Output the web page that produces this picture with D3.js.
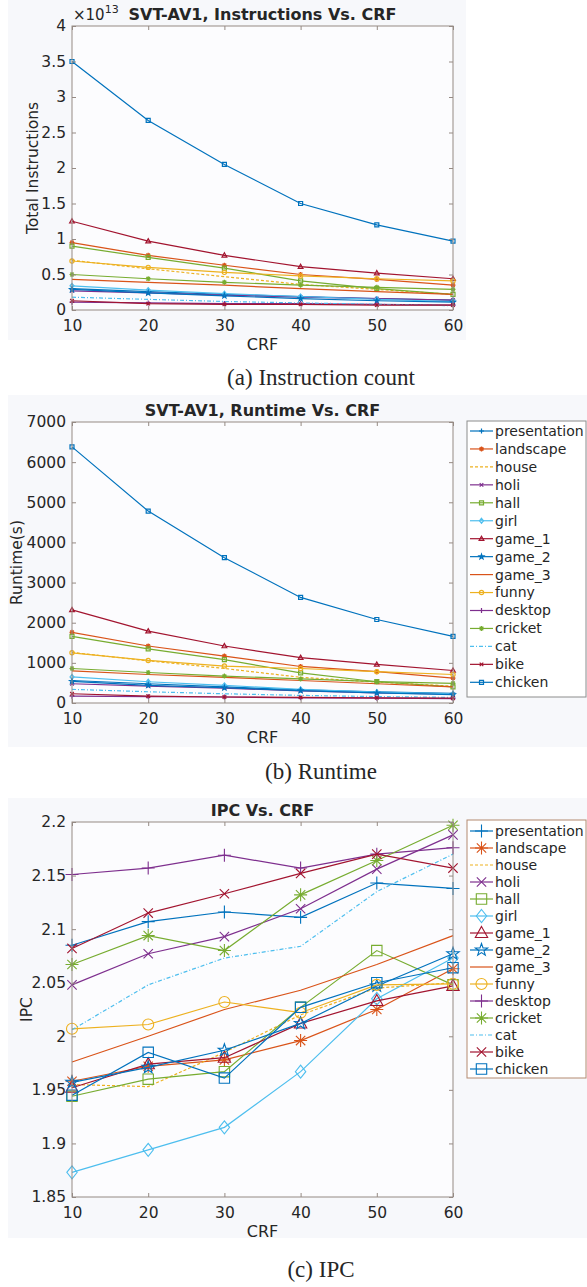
<!DOCTYPE html>
<html>
<head>
<meta charset="utf-8">
<script src="https://cdn.jsdelivr.net/npm/d3@7"></script>
<style>
  body { margin: 0; background: #fff; }
  text { font-family: 'DejaVu Sans', sans-serif; fill: #262626; }
  .caption { font-family: 'Liberation Serif', serif; }
</style>
</head>
<body>
<svg id="canvas"></svg>
<script>
const crf = [10, 20, 30, 40, 50, 60];

const seriesNames = ['presentation', 'landscape', 'house', 'holi', 'hall', 'girl', 'game_1',
    'game_2', 'game_3', 'funny', 'desktop', 'cricket', 'cat', 'bike', 'chicken'];

// total instructions, in units of 1e13
const instructionsE13 = [
    [0.30, 0.26, 0.22, 0.19, 0.16, 0.14],
    [0.95, 0.77, 0.63, 0.50, 0.43, 0.35],
    [0.70, 0.58, 0.47, 0.36, 0.29, 0.22],
    [0.27, 0.24, 0.21, 0.18, 0.16, 0.14],
    [0.90, 0.74, 0.59, 0.41, 0.30, 0.22],
    [0.34, 0.28, 0.23, 0.19, 0.15, 0.12],
    [1.25, 0.97, 0.77, 0.61, 0.52, 0.44],
    [0.29, 0.24, 0.20, 0.16, 0.13, 0.11],
    [0.43, 0.39, 0.35, 0.30, 0.26, 0.22],
    [0.69, 0.60, 0.53, 0.48, 0.44, 0.41],
    [0.11, 0.10, 0.09, 0.09, 0.08, 0.07],
    [0.50, 0.44, 0.39, 0.35, 0.32, 0.29],
    [0.18, 0.15, 0.12, 0.10, 0.08, 0.06],
    [0.13, 0.09, 0.08, 0.08, 0.07, 0.07],
    [3.50, 2.67, 2.05, 1.50, 1.20, 0.97]
];

// runtime in seconds
const runtimes = [
    [560, 480, 400, 330, 280, 240],
    [1760, 1420, 1170, 910, 780, 620],
    [1260, 1050, 860, 640, 520, 420],
    [480, 420, 370, 300, 250, 220],
    [1660, 1350, 1080, 750, 530, 400],
    [650, 530, 440, 340, 270, 230],
    [2320, 1790, 1420, 1130, 960, 810],
    [540, 440, 380, 310, 250, 210],
    [800, 710, 640, 560, 480, 400],
    [1250, 1060, 920, 860, 780, 710],
    [170, 160, 150, 130, 120, 110],
    [860, 760, 670, 600, 530, 490],
    [340, 280, 230, 190, 160, 140],
    [230, 170, 150, 140, 130, 120],
    [6380, 4780, 3620, 2630, 2080, 1660]
];

const ipcValues = [
    [2.085, 2.107, 2.116, 2.111, 2.143, 2.138],
    [1.958, 1.972, 1.978, 1.996, 2.025, 2.063],
    [1.955, 1.953, 1.985, 2.020, 2.045, 2.050],
    [2.048, 2.077, 2.093, 2.119, 2.156, 2.188],
    [1.944, 1.960, 1.967, 2.027, 2.080, 2.048],
    [1.873, 1.894, 1.915, 1.967, 2.035, 2.073],
    [1.952, 1.974, 1.980, 2.012, 2.033, 2.047],
    [1.957, 1.971, 1.987, 2.012, 2.047, 2.077],
    [1.976, 2.000, 2.025, 2.043, 2.067, 2.094],
    [2.007, 2.011, 2.032, 2.022, 2.048, 2.049],
    [2.151, 2.157, 2.169, 2.157, 2.170, 2.176],
    [2.067, 2.094, 2.080, 2.132, 2.164, 2.197],
    [2.006, 2.048, 2.073, 2.084, 2.135, 2.170],
    [2.082, 2.115, 2.133, 2.152, 2.170, 2.157],
    [1.945, 1.985, 1.961, 2.027, 2.050, 2.064]
];

const instrTicks = [0, 0.5, 1, 1.5, 2, 2.5, 3, 3.5, 4];
const runtimeTicks = [0, 1000, 2000, 3000, 4000, 5000, 6000, 7000];
const ipcTicks = [1.85, 1.9, 1.95, 2, 2.05, 2.1, 2.15, 2.2];

// matlab default line colors
const palette = ['#0072BD', '#D95319', '#EDB120', '#7E2F8E', '#77AC30', '#4DBEEE', '#A2142F'];
const markers = ['plus', 'asterisk', 'none', 'x', 'square', 'diamond', 'triangle',
    'pentagram', 'none', 'circle', 'plus', 'asterisk', 'none', 'x', 'square'];
const dashes = { house: '3,2', cat: '4,2,1,2' };

const width = 587;
const height = 1287;
const axisColor = '#958a84';

const canvas = d3.select('#canvas')
    .attr('width', width)
    .attr('height', height);

const markerPath = (type, s) => {
    const k = s * 0.72;
    if (type === 'plus') return `M${-s},0H${s}M0,${-s}V${s}`;
    if (type === 'x') return `M${-k},${-k}L${k},${k}M${-k},${k}L${k},${-k}`;
    if (type === 'asterisk') return `M${-s},0H${s}M0,${-s}V${s}M${-k},${-k}L${k},${k}M${-k},${k}L${k},${-k}`;
    if (type === 'square') { const q = s * 0.8; return `M${-q},${-q}H${q}V${q}H${-q}Z`; }
    if (type === 'diamond') return `M0,${-s}L${s * 0.8},0L0,${s}L${-s * 0.8},0Z`;
    if (type === 'triangle') return `M0,${-s}L${s * 0.95},${s * 0.7}L${-s * 0.95},${s * 0.7}Z`;
    if (type === 'circle') { const p = d3.path(); p.arc(0, 0, s * 0.85, 0, 2 * Math.PI); p.closePath(); return p.toString(); }
    if (type === 'pentagram') {
        let pts = [];
        for (let i = 0; i < 10; i++) {
            const r = i % 2 === 0 ? s : s * 0.4;
            const a = -Math.PI / 2 + i * Math.PI / 5;
            pts.push([r * Math.cos(a), r * Math.sin(a)]);
        }
        return 'M' + pts.map(p => p.join(',')).join('L') + 'Z';
    }
    return '';
};

const drawPanel = (cfg) => {
    const left = 72, right = 453;
    const xScale = d3.scaleLinear().domain([10, 60]).range([left, right]);
    const yScale = d3.scaleLinear().domain(cfg.yDomain).range([cfg.bottom, cfg.top]);

    // figure background
    canvas.append('rect')
        .attr('x', cfg.bg[0]).attr('y', cfg.bg[1])
        .attr('width', cfg.bg[2]).attr('height', cfg.bg[3])
        .attr('fill', '#f7f8fb');
    canvas.append('rect')
        .attr('x', left).attr('y', cfg.top)
        .attr('width', right - left).attr('height', cfg.bottom - cfg.top)
        .attr('fill', '#fcfcfe');

    const g = canvas.append('g');

    // lines and markers
    cfg.values.forEach((vals, i) => {
        const name = seriesNames[i];
        const color = palette[i % 7];
        const line = d3.line().x((d, j) => xScale(crf[j])).y(d => yScale(d));
        g.append('path')
            .datum(vals)
            .attr('d', line)
            .attr('fill', 'none')
            .attr('stroke', color)
            .attr('stroke-width', cfg.lineWidth)
            .attr('stroke-dasharray', dashes[name] || null);
        if (markers[i] !== 'none') {
            g.selectAll(null)
                .data(vals)
                .enter()
                .append('path')
                .attr('transform', (d, j) => `translate(${xScale(crf[j])},${yScale(d)})`)
                .attr('d', markerPath(markers[i], cfg.markerSize))
                .attr('fill', 'none')
                .attr('stroke', color)
                .attr('stroke-width', cfg.markerWidth);
        }
    });

    // box and ticks
    canvas.append('rect')
        .attr('x', left).attr('y', cfg.top)
        .attr('width', right - left).attr('height', cfg.bottom - cfg.top)
        .attr('fill', 'none').attr('stroke', axisColor).attr('stroke-width', 1);

    const xAxis = d3.axisBottom(xScale).tickValues(crf).tickSizeInner(-4).tickSizeOuter(0).tickPadding(10);
    const xAxisTop = d3.axisTop(xScale).tickValues(crf).tickSizeInner(-4).tickSizeOuter(0).tickFormat('');
    const yAxis = d3.axisLeft(yScale).tickValues(cfg.ticks).tickSizeInner(-4).tickSizeOuter(0).tickPadding(6).tickFormat(cfg.format);
    const yAxisRight = d3.axisRight(yScale).tickValues(cfg.ticks).tickSizeInner(-4).tickSizeOuter(0).tickFormat('');

    const axes = [
        canvas.append('g').attr('transform', `translate(0,${cfg.bottom})`).call(xAxis),
        canvas.append('g').attr('transform', `translate(0,${cfg.top})`).call(xAxisTop),
        canvas.append('g').attr('transform', `translate(${left},0)`).call(yAxis),
        canvas.append('g').attr('transform', `translate(${right},0)`).call(yAxisRight)
    ];
    axes.forEach(a => {
        a.select('.domain').remove();
        a.selectAll('line').attr('stroke', axisColor);
        a.selectAll('text').style('font-size', '15.5px').style('font-family', "'DejaVu Sans', sans-serif").attr('fill', '#262626');
    });

    // title and labels
    canvas.append('text')
        .attr('x', (left + right) / 2).attr('y', cfg.top - 6)
        .attr('text-anchor', 'middle')
        .style('font-size', '16px').style('font-weight', 'bold')
        .text(cfg.title);
    canvas.append('text')
        .attr('x', (left + right) / 2).attr('y', cfg.bottom + 40)
        .attr('text-anchor', 'middle')
        .style('font-size', '16px')
        .text('CRF');
    canvas.append('text')
        .attr('transform', `translate(${cfg.ylabelX},${(cfg.top + cfg.bottom) / 2}) rotate(-90)`)
        .attr('text-anchor', 'middle')
        .attr('dy', '0.35em')
        .style('font-size', '15.5px')
        .text(cfg.ylabel);
    canvas.append('text')
        .attr('class', 'caption')
        .attr('x', 321).attr('y', cfg.caption[1])
        .attr('text-anchor', 'middle')
        .style('font-size', '23px')
        .text(cfg.caption[0]);

    // legend
    if (cfg.legend) {
        const lg = cfg.legend;
        canvas.append('rect')
            .attr('x', lg.x).attr('y', lg.y)
            .attr('width', lg.w).attr('height', lg.h)
            .attr('fill', '#fff').attr('stroke', lg.stroke).attr('stroke-width', 1);
        seriesNames.forEach((name, i) => {
            const y = lg.first + i * lg.step;
            const color = palette[i % 7];
            canvas.append('line')
                .attr('x1', lg.x + 3).attr('x2', lg.x + 26)
                .attr('y1', y).attr('y2', y)
                .attr('stroke', color).attr('stroke-width', cfg.lineWidth)
                .attr('stroke-dasharray', dashes[name] || null);
            if (markers[i] !== 'none') {
                canvas.append('path')
                    .attr('transform', `translate(${lg.x + 14.5},${y})`)
                    .attr('d', markerPath(markers[i], cfg.markerSize))
                    .attr('fill', 'none').attr('stroke', color).attr('stroke-width', cfg.markerWidth);
            }
            canvas.append('text')
                .attr('x', lg.x + 28).attr('y', y)
                .attr('dy', '0.35em')
                .style('font-size', '14px')
                .text(name);
        });
    }
};

drawPanel({
    top: 26, bottom: 310, yDomain: [0, 4], ticks: instrTicks, format: d3.format('~g'),
    values: instructionsE13, title: 'SVT-AV1, Instructions Vs. CRF', ylabel: 'Total Instructions', ylabelX: 33,
    markerSize: 2.5, markerWidth: 1.2, lineWidth: 1.2,
    bg: [8, 0, 458, 340], caption: ['(a) Instruction count', 385]
});

// the x10^13 exponent label
const expLabel = canvas.append('text').attr('x', 73).attr('y', 20).style('font-size', '15px');
expLabel.append('tspan').text('\u00d710');
expLabel.append('tspan').attr('dy', -7).style('font-size', '11px').text('13');

drawPanel({
    top: 422, bottom: 703, yDomain: [0, 7000], ticks: runtimeTicks, format: d3.format('d'),
    values: runtimes, title: 'SVT-AV1, Runtime Vs. CRF', ylabel: 'Runtime(s)', ylabelX: 17,
    markerSize: 2.5, markerWidth: 1.2, lineWidth: 1.2,
    bg: [8, 395, 579, 352], caption: ['(b) Runtime', 779],
    legend: { x: 467, y: 421, w: 119, h: 276, first: 431, step: 17.95, stroke: '#8c8c8c' }
});

drawPanel({
    top: 822, bottom: 1197, yDomain: [1.85, 2.2], ticks: ipcTicks, format: d3.format('~g'),
    values: ipcValues, title: 'IPC Vs. CRF', ylabel: 'IPC', ylabelX: 27,
    markerSize: 6.5, markerWidth: 1.1, lineWidth: 1.2,
    bg: [8, 798, 579, 440], caption: ['(c) IPC', 1277],
    legend: { x: 467, y: 820, w: 119, h: 258, first: 831, step: 17, stroke: '#b48a70' }
});
</script>
</body>
</html>
